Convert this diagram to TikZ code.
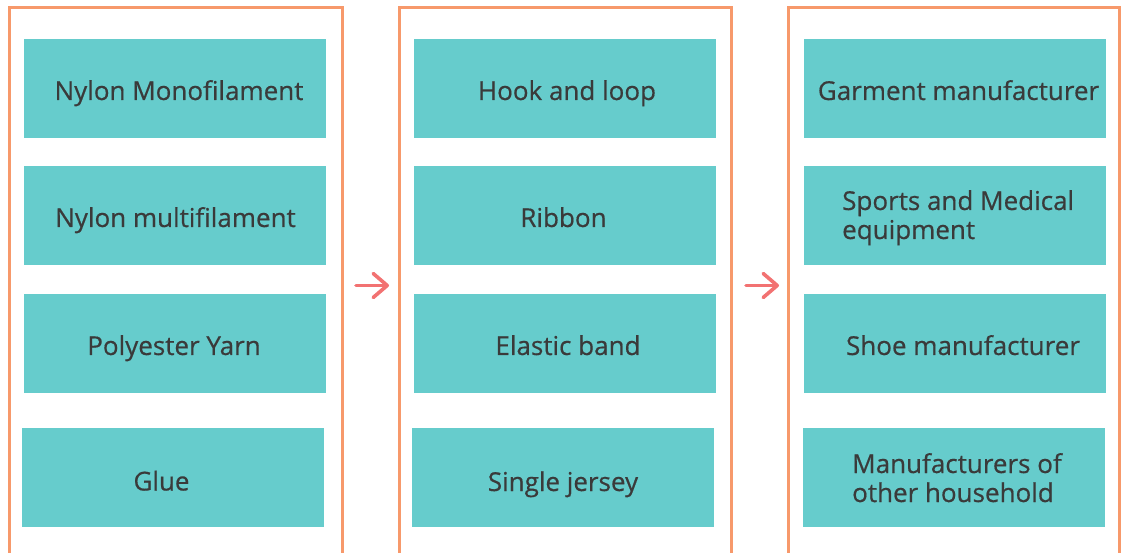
\documentclass[tikz,border=0pt]{standalone}
\usepackage{fontspec}
\setmainfont{Open Sans}
\newfontfamily\itemfont{Open Sans}[FakeBold=0.5]
\usetikzlibrary{arrows.meta}
\definecolor{frameorange}{HTML}{F7996B}
\definecolor{boxteal}{HTML}{66CCCC}
\definecolor{arrowred}{HTML}{F27272}
\definecolor{textgray}{HTML}{3A3A3A}
\tikzset{
  panel/.style={draw=frameorange, line width=3pt, fill=none},
  item/.style={fill=boxteal, draw=none, minimum width=302pt, minimum height=99pt,
    inner sep=0pt},
  caption/.style={inner sep=0pt, anchor=base, text=textgray, align=left,
    font=\itemfont\fontsize{26}{29}\selectfont},
  flow/.style={draw=arrowred, line width=3.6pt, line cap=round,
    -{Straight Barb[length=14pt, width=24pt, line cap=round, line join=round]}}
}
\begin{document}
\begin{tikzpicture}[x=1pt, y=-1pt]
\useasboundingbox (0,0) rectangle (1122,553);
\clip (0,0) rectangle (1122,553);
% three column frames (open at the bottom edge of the page)
\draw[panel] (9,8) rectangle (342,560);
\draw[panel] (399,8) rectangle (731,560);
\draw[panel] (788,8) rectangle (1119,560);
% raw materials
\node[item] (m1) at (175,89) {};
\node[item] (m2) at (175,215.5) {};
\node[item] (m3) at (175,343.5) {};
\node[item] (m4) at (173,477.5) {};
\node[caption] (m1t) at (179,100) {Nylon Monofilament};
\node[caption] (m2t) at (175.5,227) {Nylon multifilament};
\node[caption] (m3t) at (174,355) {Polyester Yarn};
\node[caption] (m4t) at (161.5,490.5) {Glue};
% products
\node[item] (p1) at (565,89) {};
\node[item] (p2) at (565,215.5) {};
\node[item] (p3) at (565,343.5) {};
\node[item] (p4) at (563,477.5) {};
\node[caption] (p1t) at (567,100) {Hook and loop};
\node[caption] (p2t) at (563.5,227) {Ribbon};
\node[caption] (p3t) at (568,355) {Elastic band};
\node[caption] (p4t) at (563,491) {Single jersey};
% customers (two-line captions are placed by their last baseline)
\node[item] (c1) at (954.5,89) {};
\node[item] (c2) at (954.5,215.5) {};
\node[item] (c3) at (954.5,343.5) {};
\node[item] (c4) at (953.5,477.5) {};
\node[caption] (c1t) at (958.5,100) {Garment manufacturer};
\node[caption, anchor=base west] (c2t) at (842,239) {Sports and Medical\\equipment};
\node[caption] (c3t) at (963,355) {Shoe manufacturer};
\node[caption, anchor=base west] (c4t) at (852,502) {Manufacturers of\\other household};
% arrows between the columns
\coordinate (a1s) at (356,285.5);
\coordinate (a1e) at (389,285.5);
\coordinate (a2s) at (746,285.5);
\coordinate (a2e) at (779,285.5);
\draw[flow] (a1s) -- (a1e);
\draw[flow] (a2s) -- (a2e);
\end{tikzpicture}
\end{document}
